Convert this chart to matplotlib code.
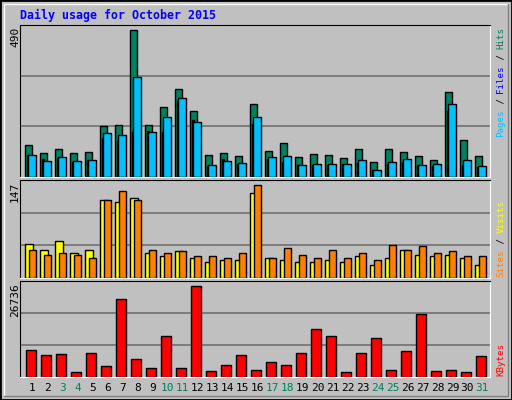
import matplotlib
matplotlib.use("Agg")
import matplotlib.pyplot as plt
from matplotlib.patches import Rectangle

days = list(range(1, 32))
weekend = [3, 4, 10, 11, 17, 18, 24, 25, 31]
hits = [108, 81, 94, 81, 84, 171, 174, 490, 174, 231, 291, 221, 74, 81, 71, 241,
        88, 114, 68, 78, 74, 64, 94, 51, 94, 84, 71, 58, 281, 124, 71]
files = [74, 54, 68, 54, 58, 147, 138, 334, 151, 201, 264, 184, 41, 54, 48, 201,
         68, 71, 41, 44, 44, 44, 58, 24, 51, 61, 41, 44, 241, 58, 38]
pages = [74, 61, 64, 51, 58, 131, 118, 151, 154, 151, 251, 191, 38, 61, 44, 177,
         61, 51, 41, 41, 41, 44, 48, 24, 44, 51, 41, 38, 221, 41, 34]
visits = [53, 45, 58, 39, 45, 123, 120, 126, 40, 34, 42, 32, 26, 28, 29, 134,
          32, 29, 26, 26, 28, 26, 34, 20, 31, 45, 36, 34, 37, 31, 21]
sites = [44, 37, 39, 36, 31, 123, 138, 123, 45, 39, 42, 34, 34, 32, 39, 147,
         31, 47, 36, 31, 44, 31, 40, 28, 52, 45, 50, 39, 42, 34, 34]
kbytes = [8000, 6540, 6830, 1560, 7120, 3320, 22930, 5370, 2730, 12100, 2730, 26736,
          1850, 3610, 6540, 2150, 4490, 3610, 7120, 14150, 12100, 1560, 7120, 11520,
          2150, 7710, 18540, 1850, 2150, 1560, 6250]

W, H = 512, 400
BG = "#C0C0C0"
fig = plt.figure(figsize=(W / 100, H / 100), dpi=100, facecolor=BG)
plt.rcParams["font.family"] = "DejaVu Sans Mono"

# outer border and bevel
fig.add_artist(Rectangle((0, 0), 1, 1, transform=fig.transFigure, fill=False,
                         edgecolor="black", linewidth=2))
fig.add_artist(plt.Line2D([4 / W, 4 / W, 1 - 4 / W], [4 / H, 1 - 4 / H, 1 - 4 / H],
                          transform=fig.transFigure, color="white", linewidth=1))
fig.add_artist(plt.Line2D([4 / W, 1 - 4 / W, 1 - 4 / W], [4 / H, 4 / H, 1 - 4 / H],
                          transform=fig.transFigure, color="#808080", linewidth=1))


def panel(top, bottom):
    ax = fig.add_axes([20 / W, 1 - bottom / H, 470 / W, (bottom - top) / H])
    ax.set_facecolor(BG)
    ax.set_xlim(0.5, 0.5 + 470 / 15.0)
    ax.set_xticks([])
    ax.set_yticks([])
    for s in ("top", "left"):
        ax.spines[s].set_color("black")
    for s in ("bottom", "right"):
        ax.spines[s].set_color("white")
    return ax


def grid(ax, vmax, frac):
    for g in (1 / 3, 2 / 3):
        ax.axhline(vmax / frac * g, color="#707070", linewidth=1.2, zorder=0)


d = [x for x in days]

ax1 = panel(25, 177)
ax1.set_ylim(0, 490 / 0.97)
grid(ax1, 490, 0.97)
ax1.bar([x + 0.08 for x in d], hits, width=0.46, color="#008060", edgecolor="black", lw=1, zorder=2)
ax1.bar([x + 0.05 for x in d], pages, width=0.15, color="#0000FF", edgecolor="black", lw=1, zorder=3)
ax1.bar([x + 0.32 for x in d], files, width=0.52, color="#00C0FF", edgecolor="black", lw=1, zorder=4)

ax2 = panel(180, 278)
ax2.set_ylim(0, 147 / 0.95)
grid(ax2, 147, 0.95)
ax2.bar([x + 0.11 for x in d], visits, width=0.52, color="#FFFF00", edgecolor="black", lw=1, zorder=2)
ax2.bar([x + 0.34 for x in d], sites, width=0.46, color="#FF8000", edgecolor="black", lw=1, zorder=3)

ax3 = panel(281, 377)
ax3.set_ylim(0, 26736 / 0.95)
grid(ax3, 26736, 0.95)
ax3.bar([x + 0.25 for x in d], kbytes, width=0.66, color="#FF0000", edgecolor="black", lw=1, zorder=2)

for x in d:
    ax3.text(x + 0.33, -0.06, str(x), transform=ax3.get_xaxis_transform(), ha="center",
             va="top", fontsize=8, color="#008060" if x in weekend else "black")

fig.text(20 / W, 1 - 15 / H, "Daily usage for October 2015", color="#0000FF",
         fontsize=8.4, fontweight="bold", va="center", ha="left")

for label, ytop in (("490", 27), ("147", 182), ("26736", 283)):
    fig.text(15 / W, 1 - ytop / H, label, rotation=90, fontsize=8, va="top", ha="center")


def vlabel(parts, ybottom, fs=6.6):
    cw = 0.836 * fs
    y = ybottom
    for txt, col in parts:
        fig.text(501 / W, 1 - y / H, txt, rotation=90, fontsize=fs, color=col,
                 va="bottom", ha="center")
        y -= cw * len(txt)


vlabel([("Pages", "#00C0FF"), (" / ", "black"), ("Files", "#0000FF"),
        (" / ", "black"), ("Hits", "#008060")], 137)
vlabel([("Sites", "#FF8000"), (" / ", "black"), ("Visits", "#FFFF00")], 277)
vlabel([("KBytes", "#FF0000")], 376)

fig.savefig("out.png", dpi=100, facecolor=BG)
